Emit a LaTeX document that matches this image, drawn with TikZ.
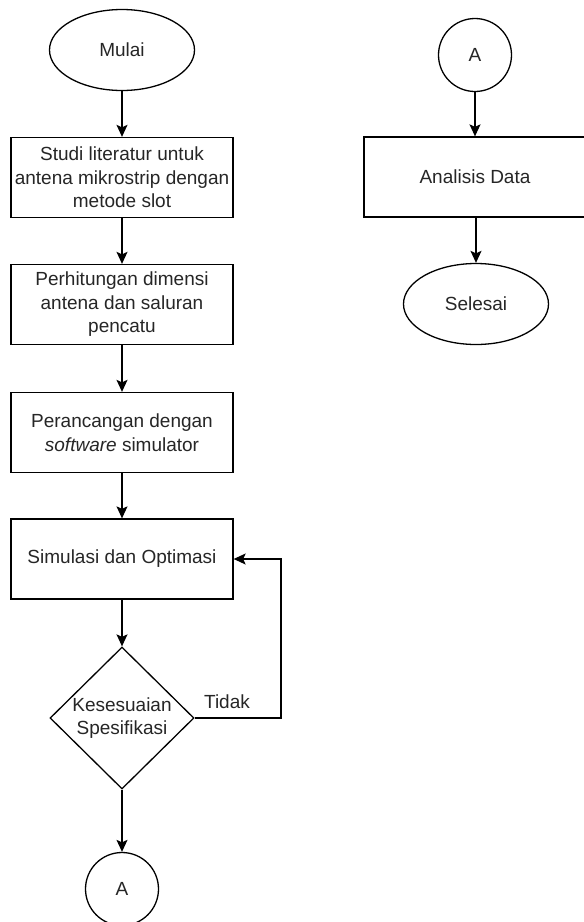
\documentclass[tikz,border=0pt]{standalone}
\usepackage{fontspec}
\setmainfont{Liberation Sans}
\usetikzlibrary{shapes.geometric,arrows.meta}
\definecolor{txt}{HTML}{262626}
\tikzset{
  base/.style={draw=black, line width=1.3pt, text=txt, font=\fontsize{19}{23.5}\selectfont, align=center, inner sep=0pt},
  procbox/.style={base, rectangle, minimum width=222pt, minimum height=80pt},
  term/.style={base, ellipse, minimum width=145pt, minimum height=81pt},
  conn/.style={base, circle, minimum size=73pt},
  dec/.style={base, diamond, minimum width=144pt, minimum height=142pt},
  arr/.style={draw=black, line width=1.3pt, -{Stealth[length=12pt,width=11pt,inset=2.5pt]}},
  lbl/.style={text=txt, font=\fontsize{19}{23.5}\selectfont, inner sep=0pt}
}
\begin{document}
\begin{tikzpicture}[x=1pt,y=-1pt]
\useasboundingbox[fill=white] (0,0) rectangle (584,922);
% left column
\node[term] (mulai) at (122,50) {Mulai};
\node[procbox] (b1) at (122,177.5) {Studi literatur untuk\\antena mikrostrip dengan\\metode slot};
\node[procbox] (b2) at (122,304.5) {Perhitungan dimensi\\antena dan saluran\\pencatu};
\node[procbox] (b3) at (122,432.5) {Perancangan dengan\\\textit{software} simulator};
\node[procbox] (b4) at (122,559) {Simulasi dan Optimasi};
\node[dec] (d) at (122,718) {};
\node[lbl, align=center] (dt) at (122,718) {Kesesuaian\\Spesifikasi};
\node[conn] (a1) at (122,889) {A};
\coordinate (loop) at (281,559);
\node[lbl] (tidak) at (227,702) {Tidak};
\draw[arr] (mulai) -- (b1);
\draw[arr] (b1) -- (b2);
\draw[arr] (b2) -- (b3);
\draw[arr] (b3) -- (b4);
\draw[arr] (b4) -- (d);
\draw[arr] (d) -- (a1);
\draw[arr] (d.east) -| (loop) -- (b4.east);
% right column
\node[conn] (a2) at (475,55) {A};
\node[procbox] (b5) at (475,177) {Analisis Data};
\node[term] (selesai) at (476,304) {Selesai};
\draw[arr] (a2) -- (b5);
\draw[arr] (b5.south -| selesai.north) -- (selesai);
\end{tikzpicture}
\end{document}
